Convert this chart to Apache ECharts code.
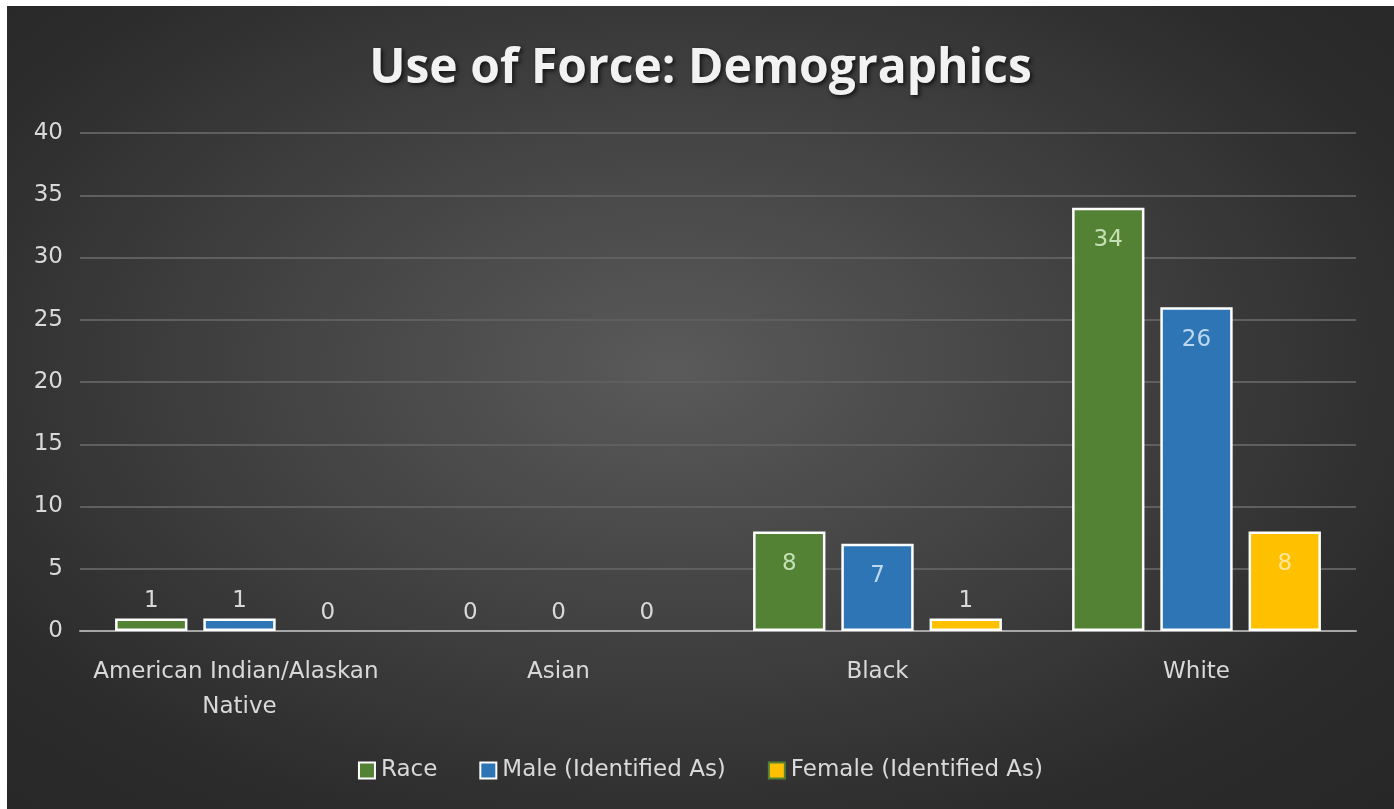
<!DOCTYPE html>
<html>
<head>
<meta charset="utf-8">
<script src="https://cdn.jsdelivr.net/npm/echarts@6/dist/echarts.min.js"></script>
<style>
html,body{margin:0;padding:0;background:#ffffff;width:1394px;height:809px;overflow:hidden;}
#chart{position:absolute;left:7px;top:6px;width:1387px;height:803px;
background:radial-gradient(ellipse 75% 80% at 48% 45%, #5a5a5a 0%, #454545 35%, #2c2c2c 75%, #262626 100%);}
</style>
</head>
<body>
<div id="chart"></div>
<script>
const categories = ["American Indian/Alaskan Native", "Asian", "Black", "White"];
const raceValues = [1, 0, 8, 34];
const maleValues = [1, 0, 7, 26];
const femaleValues = [0, 0, 1, 8];
const seriesNames = ["Race", "Male (Identified As)", "Female (Identified As)"];
const yTicks = { min: 0, max: 40, interval: 5 };

const colors = ["#548235", "#2e75b6", "#ffc000"];
const insideLabelColors = ["#c5e0b4", "#bdd7ee", "#ffe699"];
const titleFont = "'Open Sans', sans-serif";
const font = "'DejaVu Sans', sans-serif";

function makeData(vals, idx) {
  return vals.map(v => ({
    value: v,
    itemStyle: v === 0 ? { borderWidth: 0 } : {},
    label: v >= 3
      ? { position: 'insideTop', distance: 21, color: insideLabelColors[idx] }
      : { position: 'top', distance: 6, color: '#d9d9d9' }
  }));
}

const chart = echarts.init(document.getElementById('chart'), null, { renderer: 'canvas' });
const allVals = [raceValues, maleValues, femaleValues];
chart.setOption({
  backgroundColor: 'transparent',
  title: {
    text: 'Use of Force: Demographics',
    left: 'center',
    top: 34,
    textStyle: {
      color: '#f2f2f2', fontSize: 48, fontWeight: 'bold', fontFamily: titleFont,
      textShadowColor: 'rgba(0,0,0,0.7)', textShadowBlur: 4, textShadowOffsetX: 2, textShadowOffsetY: 2
    }
  },
  grid: { left: 73, right: 38, top: 127, bottom: 178, containLabel: false },
  legend: {
    bottom: 22,
    left: 'center',
    itemWidth: 16, itemHeight: 16, itemGap: 42,
    textStyle: { color: '#d9d9d9', fontSize: 23, fontFamily: font, padding: [0, 0, 0, 1] },
    data: seriesNames.map((n, i) => ({
      name: n,
      icon: 'rect',
      itemStyle: { color: colors[i], borderColor: i === 2 ? '#548235' : '#ffffff', borderWidth: 2 }
    }))
  },
  xAxis: {
    type: 'category',
    data: categories,
    axisLine: { lineStyle: { color: '#a6a6a6', width: 2 } },
    axisTick: { show: false },
    axisLabel: {
      color: '#d9d9d9', fontSize: 23, fontFamily: font, margin: 24, lineHeight: 35,
      width: 310, overflow: 'break', interval: 0
    }
  },
  yAxis: {
    type: 'value',
    min: yTicks.min, max: yTicks.max, interval: yTicks.interval,
    axisLine: { show: false },
    axisTick: { show: false },
    axisLabel: { color: '#d9d9d9', fontSize: 23, fontFamily: font, margin: 17 },
    splitLine: { lineStyle: { color: '#5f5f5f', width: 2 } }
  },
  series: seriesNames.map((n, i) => ({
    name: n,
    type: 'bar',
    data: makeData(allVals[i], i),
    barGap: '22%',
    barCategoryGap: '22%',
    itemStyle: { color: colors[i], borderColor: '#ffffff', borderWidth: 2.5 },
    label: { show: true, fontSize: 23, fontFamily: font },
    emphasis: { disabled: true }
  }))
});
</script>
</body>
</html>
